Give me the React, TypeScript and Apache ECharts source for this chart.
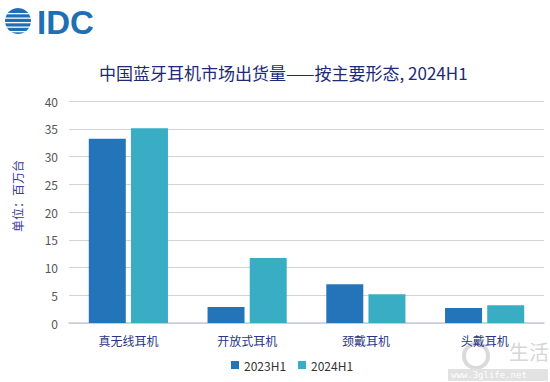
import React, { useEffect, useRef } from "react";
import * as echarts from "echarts";

const categories = ["真无线耳机", "开放式耳机", "颈戴耳机", "头戴耳机"];
const series2023 = [33.2, 2.9, 7.0, 2.7];
const series2024 = [35.1, 11.7, 5.2, 3.2];
const seriesNames = ["2023H1", "2024H1"];
const titleText = "中国蓝牙耳机市场出货量——按主要形态, 2024H1";
const yName = "单位：百万台";

const FONT = "'Noto Sans CJK SC', 'Noto Sans', sans-serif";

export default function App() {
  const ref = useRef<HTMLDivElement>(null);
  useEffect(() => {
    document.body.style.margin = "0";
    if (!ref.current) return;
    const chart = echarts.init(ref.current, null, { renderer: "svg" });
    const stripes = [-8, -3.5, 1, 5.5, 10].map((dy) => ({
      type: "rect",
      shape: { x: 3, y: 21 + dy, width: 32, height: 1.3 },
      style: { fill: "#ffffff" },
    }));
    chart.setOption({
      animation: false,
      backgroundColor: "#ffffff",
      textStyle: { fontFamily: FONT },
      title: {
        text: titleText,
        left: 94,
        top: 59,
        textStyle: { fontFamily: FONT, fontSize: 17, fontWeight: "normal", color: "#1c2a78" },
      },
      legend: {
        data: seriesNames,
        bottom: 6,
        left: 226,
        icon: "rect",
        itemWidth: 8,
        itemHeight: 8,
        itemGap: 12,
        textStyle: { fontFamily: FONT, fontSize: 12, color: "#333" },
      },
      grid: { left: 69, right: 6, top: 101, bottom: 59, containLabel: false },
      xAxis: {
        type: "category",
        data: categories,
        axisLine: { lineStyle: { color: "#c9cbe0", width: 1.5 } },
        axisTick: { show: false },
        axisLabel: { margin: 11, fontSize: 12, color: "#2a3585", fontFamily: FONT },
      },
      yAxis: {
        type: "value",
        min: 0,
        max: 40,
        interval: 5,
        axisLine: { show: false },
        axisTick: { show: false },
        axisLabel: { margin: 11, fontSize: 12, color: "#555", fontFamily: FONT },
        splitLine: { lineStyle: { color: "#d2d2da", width: 1.2 } },
      },
      series: [
        {
          name: seriesNames[0],
          type: "bar",
          data: series2023,
          barWidth: 37,
          barGap: "14%",
          itemStyle: { color: "#2474b9" },
        },
        {
          name: seriesNames[1],
          type: "bar",
          data: series2024,
          barWidth: 37,
          itemStyle: { color: "#38adc4" },
        },
      ],
      graphic: [
        {
          type: "text",
          x: 17,
          y: 196,
          rotation: Math.PI / 2,
          style: {
            text: yName,
            fontFamily: FONT,
            fontSize: 12,
            fill: "#3b3d99",
            textAlign: "center",
            textVerticalAlign: "middle",
          },
        },
        { type: "circle", shape: { cx: 18, cy: 21, r: 13 }, style: { fill: "#1f6fb5" } },
        ...stripes,
        {
          type: "text",
          x: 37,
          y: 6,
          style: {
            text: "IDC",
            fontFamily: "'Liberation Sans', Arial, sans-serif",
            fontWeight: "bold",
            fontSize: 33,
            fill: "#1f6fb5",
          },
        },
        { type: "circle", shape: { cx: 476, cy: 356, r: 12 }, style: { fill: "none", stroke: "#dadada", lineWidth: 4 } },
        {
          type: "text",
          x: 509,
          y: 341,
          style: { text: "生活", fontFamily: FONT, fontSize: 20, fill: "#d6d6d6" },
        },
        { type: "rect", shape: { x: 448, y: 369, width: 100, height: 12 }, style: { fill: "#e2e2e2" } },
        {
          type: "text",
          x: 451,
          y: 370,
          style: { text: "www.3glife.net", fontFamily: "'DejaVu Sans Mono', monospace", fontSize: 9, fill: "#ffffff" },
        },
      ],
    });
    return () => chart.dispose();
  }, []);
  return <div ref={ref} style={{ width: 550, height: 382 }} />;
}
